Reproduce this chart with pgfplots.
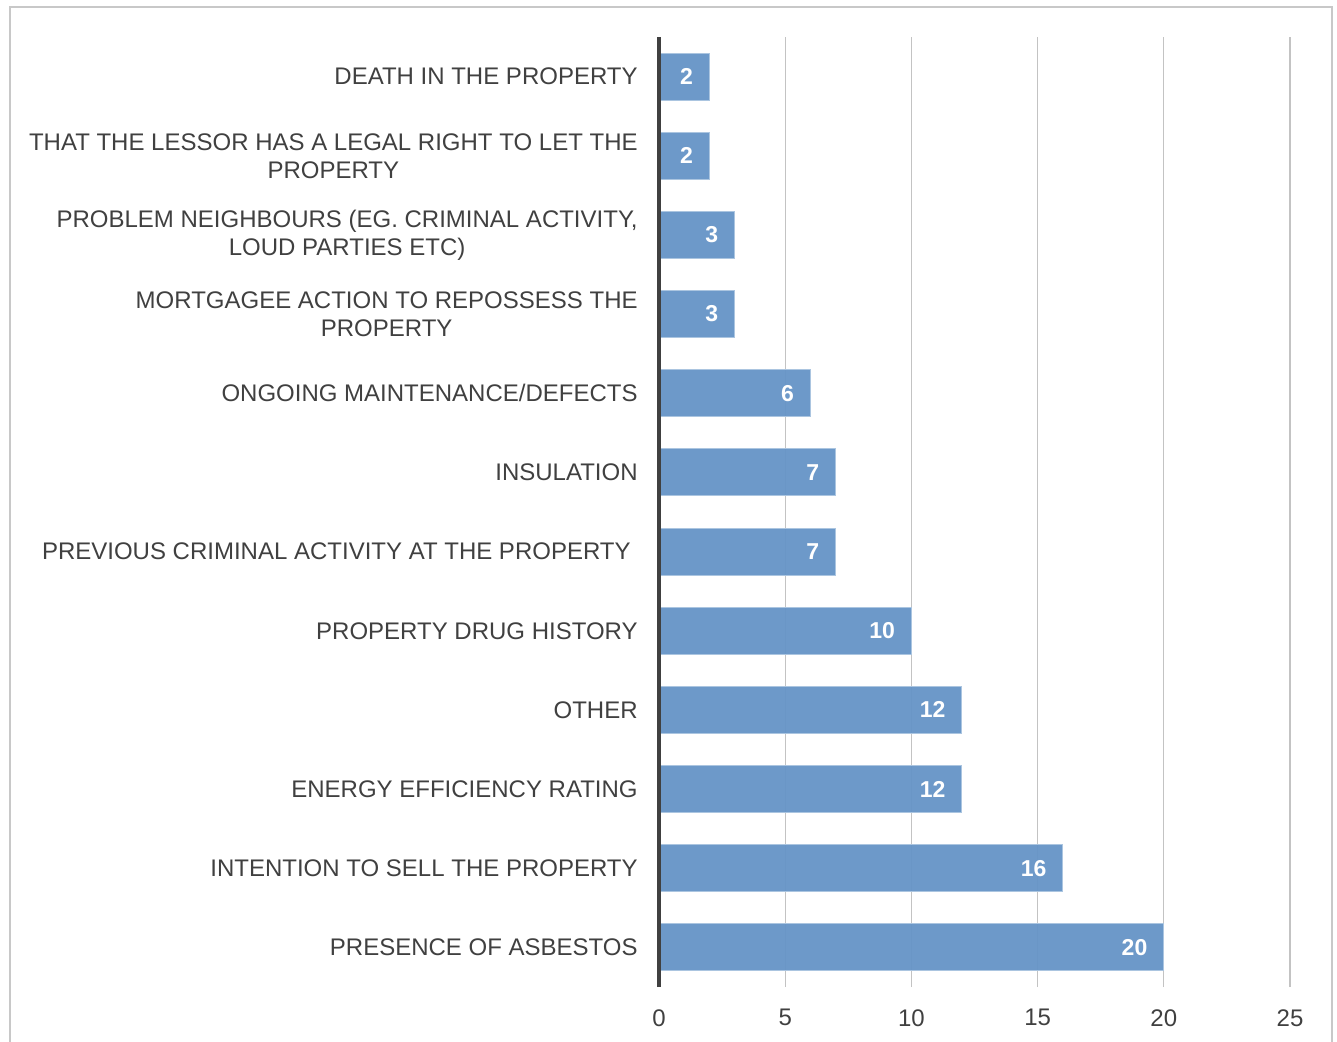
\documentclass[border=0pt]{standalone}
\usepackage{pgfplots}
\pgfplotsset{compat=1.18}
\usepackage{fontspec}
\setmainfont{Liberation Sans}
\definecolor{barblue}{RGB}{103,149,199}
\definecolor{txt}{RGB}{64,64,64}
\definecolor{gridc}{RGB}{195,195,195}
\definecolor{frame}{RGB}{200,200,200}
\pgfplotstableread{
y val
0 20
1 16
2 12
3 12
4 10
5 7
6 7
7 6
8 3
9 3
10 2
11 2
}\datatable
\begin{document}
\begin{tikzpicture}[x=0.5pt,y=0.5pt]
\useasboundingbox (0,0) rectangle (1337,1041);
\draw[frame, line width=1pt] (10,-10) -- (10,1034) -- (1332,1034) -- (1332,-10);
\begin{axis}[
  at={(329.5pt,27pt)}, anchor=south west,
  scale only axis, width=315.5pt, height=475pt,
  xmin=0, xmax=25, ymin=-0.5, ymax=11.5,
  xbar, bar width=23.5pt,
  axis x line*=bottom, axis y line*=left,
  x axis line style={draw=none},
  y axis line style={draw=none},
  xtick={0,5,10,15,20,25},
  ytick={0,...,11},
  major tick length=0pt,
  xmajorgrids, ymajorgrids=false,
  major grid style={gridc, line width=0.6pt},
  /pgf/number format/assume math mode=true,
  xticklabel style={font=\fontsize{12}{14}\selectfont, text=txt, inner ysep=0pt, yshift=-11pt},
  yticklabel style={font=\fontsize{12}{14}\selectfont, text=txt, align=center, inner xsep=0pt, xshift=-10.5pt},
  yticklabels={
    PRESENCE OF ASBESTOS,
    INTENTION TO SELL THE PROPERTY,
    ENERGY EFFICIENCY RATING,
    OTHER,
    PROPERTY DRUG HISTORY,
    PREVIOUS CRIMINAL ACTIVITY AT THE PROPERTY\hspace{3.5pt},
    INSULATION,
    ONGOING MAINTENANCE/DEFECTS,
    {MORTGAGEE ACTION TO REPOSSESS THE\\PROPERTY},
    {PROBLEM NEIGHBOURS (EG. CRIMINAL ACTIVITY,\\LOUD PARTIES ETC)},
    {THAT THE LESSOR HAS A LEGAL RIGHT TO LET THE\\PROPERTY},
    DEATH IN THE PROPERTY},
  nodes near coords,
  every node near coord/.append style={anchor=east, xshift=-8pt, inner sep=0pt, text=white, font=\fontsize{11.5}{14}\selectfont\bfseries},
  clip=false,
]
\addplot[fill=barblue, fill opacity=0.96, text opacity=1, draw=barblue!55!white, line width=0.5pt] table[x=val, y=y] {\datatable};
\draw[txt, line width=1.6pt] (axis cs:0,-0.5) -- (axis cs:0,11.5);
\end{axis}
\end{tikzpicture}
\end{document}
